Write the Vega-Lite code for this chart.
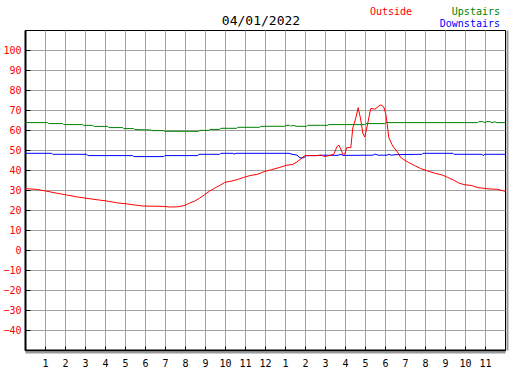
{
  "$schema": "https://vega.github.io/schema/vega-lite/v6.json",
  "width": 480,
  "height": 320,
  "autosize": {"type": "none"},
  "padding": {"left": 25, "top": 30, "right": 22, "bottom": 20},
  "background": "white",
  "config": {"view": {"stroke": "black", "strokeWidth": 1}, "font": "DejaVu Sans Mono"},
  "title": {"text": "04/01/2022", "font": "DejaVu Sans Mono", "fontSize": 13, "fontWeight": "normal", "color": "black", "anchor": "middle", "dx": -4, "offset": -21},
  "resolve": {"axis": {"x": "independent", "y": "independent"}},
  "datasets": {
    "temps": [
      {"sensor": "Downstairs", "hour": 0, "temp": 48.35},
      {"sensor": "Downstairs", "hour": 1.34, "temp": 48.35},
      {"sensor": "Downstairs", "hour": 1.39, "temp": 47.85},
      {"sensor": "Downstairs", "hour": 3.09, "temp": 47.85},
      {"sensor": "Downstairs", "hour": 3.14, "temp": 47.2},
      {"sensor": "Downstairs", "hour": 5.39, "temp": 47.2},
      {"sensor": "Downstairs", "hour": 5.44, "temp": 46.7},
      {"sensor": "Downstairs", "hour": 6.94, "temp": 46.7},
      {"sensor": "Downstairs", "hour": 6.99, "temp": 47.2},
      {"sensor": "Downstairs", "hour": 8.64, "temp": 47.2},
      {"sensor": "Downstairs", "hour": 8.69, "temp": 47.85},
      {"sensor": "Downstairs", "hour": 9.74, "temp": 47.85},
      {"sensor": "Downstairs", "hour": 9.79, "temp": 48.35},
      {"sensor": "Downstairs", "hour": 10.4, "temp": 48.35},
      {"sensor": "Downstairs", "hour": 10.45, "temp": 47.9},
      {"sensor": "Downstairs", "hour": 10.55, "temp": 48.35},
      {"sensor": "Downstairs", "hour": 13.2, "temp": 48.35},
      {"sensor": "Downstairs", "hour": 13.35, "temp": 47.85},
      {"sensor": "Downstairs", "hour": 13.6, "temp": 47.5},
      {"sensor": "Downstairs", "hour": 13.75, "temp": 46.1},
      {"sensor": "Downstairs", "hour": 13.95, "temp": 46.1},
      {"sensor": "Downstairs", "hour": 14.05, "temp": 47.2},
      {"sensor": "Downstairs", "hour": 14.5, "temp": 47.2},
      {"sensor": "Downstairs", "hour": 15.0, "temp": 47.4},
      {"sensor": "Downstairs", "hour": 15.6, "temp": 47.3},
      {"sensor": "Downstairs", "hour": 15.8, "temp": 47.8},
      {"sensor": "Downstairs", "hour": 15.9, "temp": 47.3},
      {"sensor": "Downstairs", "hour": 17.4, "temp": 47.4},
      {"sensor": "Downstairs", "hour": 17.5, "temp": 48.0},
      {"sensor": "Downstairs", "hour": 17.65, "temp": 47.4},
      {"sensor": "Downstairs", "hour": 18.1, "temp": 47.4},
      {"sensor": "Downstairs", "hour": 18.2, "temp": 47.9},
      {"sensor": "Downstairs", "hour": 18.3, "temp": 47.4},
      {"sensor": "Downstairs", "hour": 18.6, "temp": 47.7},
      {"sensor": "Downstairs", "hour": 19.85, "temp": 47.85},
      {"sensor": "Downstairs", "hour": 19.9, "temp": 48.35},
      {"sensor": "Downstairs", "hour": 21.4, "temp": 48.35},
      {"sensor": "Downstairs", "hour": 21.45, "temp": 47.85},
      {"sensor": "Downstairs", "hour": 22.85, "temp": 47.85},
      {"sensor": "Downstairs", "hour": 22.9, "temp": 47.2},
      {"sensor": "Downstairs", "hour": 23.0, "temp": 47.85},
      {"sensor": "Downstairs", "hour": 24, "temp": 47.85},
      {"sensor": "Upstairs", "hour": 0, "temp": 63.7},
      {"sensor": "Upstairs", "hour": 1.13, "temp": 63.7},
      {"sensor": "Upstairs", "hour": 1.19, "temp": 63.2},
      {"sensor": "Upstairs", "hour": 1.89, "temp": 63.2},
      {"sensor": "Upstairs", "hour": 1.94, "temp": 62.7},
      {"sensor": "Upstairs", "hour": 2.89, "temp": 62.7},
      {"sensor": "Upstairs", "hour": 2.94, "temp": 62.3},
      {"sensor": "Upstairs", "hour": 3.39, "temp": 62.3},
      {"sensor": "Upstairs", "hour": 3.44, "temp": 61.8},
      {"sensor": "Upstairs", "hour": 4.14, "temp": 61.8},
      {"sensor": "Upstairs", "hour": 4.19, "temp": 61.2},
      {"sensor": "Upstairs", "hour": 4.89, "temp": 61.2},
      {"sensor": "Upstairs", "hour": 4.94, "temp": 60.7},
      {"sensor": "Upstairs", "hour": 5.44, "temp": 60.7},
      {"sensor": "Upstairs", "hour": 5.49, "temp": 60.2},
      {"sensor": "Upstairs", "hour": 6.29, "temp": 60.0},
      {"sensor": "Upstairs", "hour": 6.34, "temp": 59.7},
      {"sensor": "Upstairs", "hour": 6.94, "temp": 59.7},
      {"sensor": "Upstairs", "hour": 6.99, "temp": 59.35},
      {"sensor": "Upstairs", "hour": 8.69, "temp": 59.35},
      {"sensor": "Upstairs", "hour": 8.74, "temp": 59.8},
      {"sensor": "Upstairs", "hour": 9.19, "temp": 59.8},
      {"sensor": "Upstairs", "hour": 9.24, "temp": 60.3},
      {"sensor": "Upstairs", "hour": 9.74, "temp": 60.3},
      {"sensor": "Upstairs", "hour": 9.79, "temp": 60.85},
      {"sensor": "Upstairs", "hour": 10.59, "temp": 60.85},
      {"sensor": "Upstairs", "hour": 10.64, "temp": 61.35},
      {"sensor": "Upstairs", "hour": 11.74, "temp": 61.35},
      {"sensor": "Upstairs", "hour": 11.79, "temp": 61.85},
      {"sensor": "Upstairs", "hour": 12.99, "temp": 61.85},
      {"sensor": "Upstairs", "hour": 13.04, "temp": 62.35},
      {"sensor": "Upstairs", "hour": 13.24, "temp": 62.35},
      {"sensor": "Upstairs", "hour": 13.29, "temp": 61.85},
      {"sensor": "Upstairs", "hour": 13.39, "temp": 62.35},
      {"sensor": "Upstairs", "hour": 13.59, "temp": 61.85},
      {"sensor": "Upstairs", "hour": 14.09, "temp": 61.85},
      {"sensor": "Upstairs", "hour": 14.14, "temp": 62.35},
      {"sensor": "Upstairs", "hour": 15.14, "temp": 62.35},
      {"sensor": "Upstairs", "hour": 15.19, "temp": 62.7},
      {"sensor": "Upstairs", "hour": 16.99, "temp": 62.7},
      {"sensor": "Upstairs", "hour": 17.04, "temp": 63.2},
      {"sensor": "Upstairs", "hour": 17.99, "temp": 63.2},
      {"sensor": "Upstairs", "hour": 18.04, "temp": 63.7},
      {"sensor": "Upstairs", "hour": 22.64, "temp": 63.7},
      {"sensor": "Upstairs", "hour": 22.69, "temp": 64.2},
      {"sensor": "Upstairs", "hour": 22.89, "temp": 64.2},
      {"sensor": "Upstairs", "hour": 22.99, "temp": 63.7},
      {"sensor": "Upstairs", "hour": 23.09, "temp": 64.2},
      {"sensor": "Upstairs", "hour": 23.24, "temp": 64.2},
      {"sensor": "Upstairs", "hour": 23.34, "temp": 63.7},
      {"sensor": "Upstairs", "hour": 23.49, "temp": 64.1},
      {"sensor": "Upstairs", "hour": 23.59, "temp": 63.7},
      {"sensor": "Upstairs", "hour": 24, "temp": 63.7},
      {"sensor": "Outside", "hour": 0, "temp": 30.7},
      {"sensor": "Outside", "hour": 0.59, "temp": 30.3},
      {"sensor": "Outside", "hour": 1.04, "temp": 29.5},
      {"sensor": "Outside", "hour": 1.59, "temp": 28.4},
      {"sensor": "Outside", "hour": 2.09, "temp": 27.5},
      {"sensor": "Outside", "hour": 2.64, "temp": 26.5},
      {"sensor": "Outside", "hour": 3.39, "temp": 25.4},
      {"sensor": "Outside", "hour": 4.09, "temp": 24.5},
      {"sensor": "Outside", "hour": 4.59, "temp": 23.6},
      {"sensor": "Outside", "hour": 5.14, "temp": 23.0},
      {"sensor": "Outside", "hour": 5.49, "temp": 22.5},
      {"sensor": "Outside", "hour": 5.89, "temp": 22.0},
      {"sensor": "Outside", "hour": 6.89, "temp": 21.8},
      {"sensor": "Outside", "hour": 7.24, "temp": 21.5},
      {"sensor": "Outside", "hour": 7.64, "temp": 21.6},
      {"sensor": "Outside", "hour": 7.99, "temp": 22.3},
      {"sensor": "Outside", "hour": 8.24, "temp": 23.5},
      {"sensor": "Outside", "hour": 8.49, "temp": 24.5},
      {"sensor": "Outside", "hour": 8.74, "temp": 26.0},
      {"sensor": "Outside", "hour": 8.99, "temp": 27.7},
      {"sensor": "Outside", "hour": 9.24, "temp": 29.5},
      {"sensor": "Outside", "hour": 9.49, "temp": 31.0},
      {"sensor": "Outside", "hour": 9.74, "temp": 32.3},
      {"sensor": "Outside", "hour": 9.99, "temp": 33.8},
      {"sensor": "Outside", "hour": 10.34, "temp": 34.5},
      {"sensor": "Outside", "hour": 10.64, "temp": 35.3},
      {"sensor": "Outside", "hour": 10.94, "temp": 36.3},
      {"sensor": "Outside", "hour": 11.24, "temp": 37.2},
      {"sensor": "Outside", "hour": 11.64, "temp": 37.9},
      {"sensor": "Outside", "hour": 11.99, "temp": 39.3},
      {"sensor": "Outside", "hour": 12.34, "temp": 40.2},
      {"sensor": "Outside", "hour": 12.74, "temp": 41.3},
      {"sensor": "Outside", "hour": 13.04, "temp": 42.3},
      {"sensor": "Outside", "hour": 13.39, "temp": 42.8},
      {"sensor": "Outside", "hour": 13.59, "temp": 44.0},
      {"sensor": "Outside", "hour": 13.79, "temp": 45.5},
      {"sensor": "Outside", "hour": 13.99, "temp": 47.2},
      {"sensor": "Outside", "hour": 14.34, "temp": 47.2},
      {"sensor": "Outside", "hour": 14.64, "temp": 47.2},
      {"sensor": "Outside", "hour": 14.79, "temp": 47.5},
      {"sensor": "Outside", "hour": 14.99, "temp": 46.7},
      {"sensor": "Outside", "hour": 15.24, "temp": 47.3},
      {"sensor": "Outside", "hour": 15.44, "temp": 47.9},
      {"sensor": "Outside", "hour": 15.59, "temp": 51.5},
      {"sensor": "Outside", "hour": 15.69, "temp": 52.5},
      {"sensor": "Outside", "hour": 15.79, "temp": 50.5},
      {"sensor": "Outside", "hour": 15.89, "temp": 47.9},
      {"sensor": "Outside", "hour": 15.99, "temp": 48.0},
      {"sensor": "Outside", "hour": 16.09, "temp": 51.2},
      {"sensor": "Outside", "hour": 16.29, "temp": 51.2},
      {"sensor": "Outside", "hour": 16.39, "temp": 61.0},
      {"sensor": "Outside", "hour": 16.54, "temp": 66.0},
      {"sensor": "Outside", "hour": 16.66, "temp": 71.2},
      {"sensor": "Outside", "hour": 16.79, "temp": 65.0},
      {"sensor": "Outside", "hour": 16.89, "temp": 58.5},
      {"sensor": "Outside", "hour": 16.99, "temp": 56.5},
      {"sensor": "Outside", "hour": 17.09, "temp": 61.0},
      {"sensor": "Outside", "hour": 17.19, "temp": 66.0},
      {"sensor": "Outside", "hour": 17.29, "temp": 70.8},
      {"sensor": "Outside", "hour": 17.49, "temp": 70.4},
      {"sensor": "Outside", "hour": 17.64, "temp": 71.5},
      {"sensor": "Outside", "hour": 17.74, "temp": 72.5},
      {"sensor": "Outside", "hour": 17.84, "temp": 72.3},
      {"sensor": "Outside", "hour": 17.94, "temp": 71.5},
      {"sensor": "Outside", "hour": 18.04, "temp": 68.0},
      {"sensor": "Outside", "hour": 18.09, "temp": 64.5},
      {"sensor": "Outside", "hour": 18.19, "temp": 56.2},
      {"sensor": "Outside", "hour": 18.34, "temp": 52.9},
      {"sensor": "Outside", "hour": 18.44, "temp": 51.2},
      {"sensor": "Outside", "hour": 18.59, "temp": 49.5},
      {"sensor": "Outside", "hour": 18.69, "temp": 47.9},
      {"sensor": "Outside", "hour": 18.79, "temp": 46.2},
      {"sensor": "Outside", "hour": 18.94, "temp": 45.2},
      {"sensor": "Outside", "hour": 19.19, "temp": 43.7},
      {"sensor": "Outside", "hour": 19.49, "temp": 42.2},
      {"sensor": "Outside", "hour": 19.79, "temp": 40.7},
      {"sensor": "Outside", "hour": 20.14, "temp": 39.5},
      {"sensor": "Outside", "hour": 20.49, "temp": 38.4},
      {"sensor": "Outside", "hour": 20.89, "temp": 37.4},
      {"sensor": "Outside", "hour": 21.14, "temp": 36.3},
      {"sensor": "Outside", "hour": 21.44, "temp": 34.9},
      {"sensor": "Outside", "hour": 21.69, "temp": 33.5},
      {"sensor": "Outside", "hour": 21.94, "temp": 32.7},
      {"sensor": "Outside", "hour": 22.34, "temp": 32.2},
      {"sensor": "Outside", "hour": 22.64, "temp": 31.2},
      {"sensor": "Outside", "hour": 23.24, "temp": 30.5},
      {"sensor": "Outside", "hour": 23.59, "temp": 30.4},
      {"sensor": "Outside", "hour": 24, "temp": 29.4}
    ],
    "labels": [
      {"sensor": "Outside"},
      {"sensor": "Upstairs"},
      {"sensor": "Downstairs"}
    ]
  },
  "layer": [
    {
      "data": {"name": "temps"},
      "mark": {"type": "line", "strokeWidth": 1, "clip": true},
      "encoding": {
        "x": {
          "field": "hour", "type": "quantitative",
          "scale": {"domain": [0, 24], "nice": false, "zero": false},
          "axis": {
            "title": null, "orient": "bottom",
            "values": [1,2,3,4,5,6,7,8,9,10,11,12,13,14,15,16,17,18,19,20,21,22,23],
            "labelExpr": "datum.value % 12 === 0 ? '12' : '' + (datum.value % 12)",
            "grid": true, "gridColor": "#a0a0a0", "gridWidth": 1, "gridOpacity": 1,
            "tickSize": -4, "tickColor": "black", "tickWidth": 1,
            "domainColor": "black", "domainWidth": 2,
            "labelPadding": 12, "labelFont": "DejaVu Sans Mono", "labelFontSize": 10,
            "labelColor": "black", "labelFlush": false, "labelOverlap": false
          }
        },
        "y": {
          "field": "temp", "type": "quantitative",
          "scale": {"domain": [-50, 110], "nice": false, "zero": false},
          "axis": {
            "title": null, "orient": "left",
            "values": [-40,-30,-20,-10,0,10,20,30,40,50,60,70,80,90,100],
            "grid": true, "gridColor": "#a0a0a0", "gridWidth": 1, "gridOpacity": 1,
            "tickSize": -5, "tickColor": "black", "tickWidth": 1,
            "domainColor": "black", "domainWidth": 2,
            "labelPadding": 9, "labelFont": "DejaVu Sans Mono", "labelFontSize": 10,
            "labelColor": "#ff0000", "labelFlush": false, "labelOverlap": false
          }
        },
        "color": {
          "field": "sensor", "type": "nominal",
          "scale": {"domain": ["Outside", "Upstairs", "Downstairs"], "range": ["#ff0000", "#008000", "#0000ff"]},
          "legend": null
        }
      }
    },
    {
      "data": {"name": "labels"},
      "transform": [{"filter": "datum.sensor === 'Outside'"}],
      "mark": {"type": "text", "align": "left", "baseline": "alphabetic", "font": "DejaVu Sans Mono", "fontSize": 10},
      "encoding": {
        "x": {"datum": 17.25, "axis": null},
        "y": {"datum": 117.5, "axis": null},
        "text": {"field": "sensor"},
        "color": {"field": "sensor", "type": "nominal", "legend": null}
      }
    },
    {
      "data": {"name": "labels"},
      "transform": [{"filter": "datum.sensor === 'Upstairs'"}],
      "mark": {"type": "text", "align": "right", "baseline": "alphabetic", "font": "DejaVu Sans Mono", "fontSize": 10},
      "encoding": {
        "x": {"datum": 23.75, "axis": null},
        "y": {"datum": 117.5, "axis": null},
        "text": {"field": "sensor"},
        "color": {"field": "sensor", "type": "nominal", "legend": null}
      }
    },
    {
      "data": {"name": "labels"},
      "transform": [{"filter": "datum.sensor === 'Downstairs'"}],
      "mark": {"type": "text", "align": "right", "baseline": "alphabetic", "font": "DejaVu Sans Mono", "fontSize": 10},
      "encoding": {
        "x": {
          "datum": 23.75,
          "axis": {"orient": "bottom", "offset": 2, "title": null, "labels": false, "ticks": false, "grid": false, "domainColor": "#999999", "domainWidth": 2}
        },
        "y": {
          "datum": 111.75,
          "axis": {"orient": "right", "offset": 2, "title": null, "labels": false, "ticks": false, "grid": false, "domainColor": "#999999", "domainWidth": 2}
        },
        "text": {"field": "sensor"},
        "color": {"field": "sensor", "type": "nominal", "legend": null}
      }
    }
  ]
}
